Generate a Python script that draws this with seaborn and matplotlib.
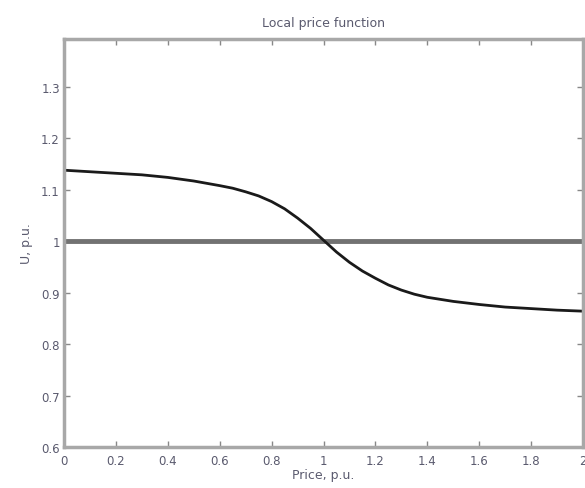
import matplotlib
matplotlib.use("Agg")
import matplotlib.pyplot as plt
import seaborn as sns
import pandas as pd
from matplotlib.ticker import FuncFormatter

price = [0.0, 0.1, 0.2, 0.3, 0.4, 0.5, 0.6, 0.65, 0.7, 0.75, 0.8, 0.85, 0.9,
         0.95, 1.0, 1.05, 1.1, 1.15, 1.2, 1.25, 1.3, 1.35, 1.4, 1.45, 1.5,
         1.6, 1.7, 1.8, 1.9, 2.0]
voltage = [1.138, 1.135, 1.132, 1.129, 1.124, 1.117, 1.108, 1.103, 1.096,
           1.088, 1.077, 1.063, 1.045, 1.025, 1.002, 0.979, 0.959, 0.942,
           0.928, 0.915, 0.905, 0.897, 0.891, 0.887, 0.883, 0.877, 0.872,
           0.869, 0.866, 0.864]
ref_price = [0.0, 2.0]
ref_voltage = [1.0, 1.0]
xticks = [0, 0.2, 0.4, 0.6, 0.8, 1.0, 1.2, 1.4, 1.6, 1.8, 2.0]
yticks = [0.6, 0.7, 0.8, 0.9, 1.0, 1.1, 1.2, 1.3]

sns.set_style("white")
plt.rcParams['font.family'] = ['DejaVu Sans']

fig = plt.figure(figsize=(5.85, 4.89), dpi=100)
ax = fig.add_axes([64/585, 41/489, 519/585, 408/489])

df_curve = pd.DataFrame({"price": price, "voltage": voltage})
df_ref = pd.DataFrame({"price": ref_price, "voltage": ref_voltage})
sns.lineplot(data=df_ref, x="price", y="voltage", ax=ax, color="#727272", lw=3.5)
sns.lineplot(data=df_curve, x="price", y="voltage", ax=ax, color="#1a1a1a", lw=2)

ax.set_xlim(0, 2)
ax.set_ylim(0.6, 1.393)
ax.set_xticks(xticks)
ax.set_yticks(yticks)
fmt = FuncFormatter(lambda v, p: ("%g" % round(v, 2)))
ax.xaxis.set_major_formatter(fmt)
ax.yaxis.set_major_formatter(fmt)
ax.tick_params(direction="in", length=4, width=1, color="#888888",
               labelsize=8.5, labelcolor="#5a5a6e", top=True, right=True,
               bottom=True, left=True)
ax.tick_params(axis="x", pad=5)
ax.tick_params(axis="y", pad=3)
for s in ax.spines.values():
    s.set_color("#a8a8a8")
    s.set_linewidth(2.5)

ax.set_title("Local price function", fontsize=9, color="#5a5a6e", pad=9)
ax.set_xlabel("Price, p.u.", fontsize=9, color="#5a5a6e", labelpad=1)
ax.set_ylabel("U, p.u.", fontsize=9, color="#5a5a6e", labelpad=6)

fig.savefig("out.png", dpi=100)
